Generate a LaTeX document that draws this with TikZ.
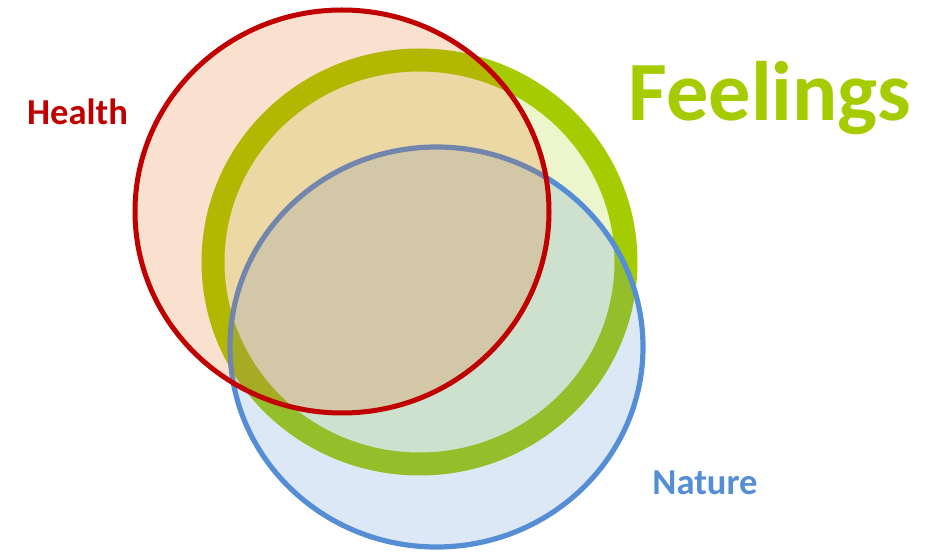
\documentclass[tikz,border=0pt]{standalone}
\usepackage{fontspec}
\setmainfont{Carlito}
\definecolor{healthred}{RGB}{192,0,0}
\definecolor{healthfill}{RGB}{230,100,10}
\definecolor{feelgreen}{RGB}{165,204,0}
\definecolor{natureblue}{RGB}{85,142,213}
\tikzset{
	setlabel/.style={font=\bfseries\fontsize{26}{30}\selectfont, inner sep=0pt, anchor=base},
	setfill/.style={fill opacity=0.2}
}
\begin{document}
\begin{tikzpicture}[x=0.025cm, y=-0.025cm]
	\useasboundingbox (0,0) rectangle (943,556);
	\begin{scope}
		\fill [feelgreen, setfill] (419.5,262) ellipse [x radius=206.5, y radius=202];
		\draw [feelgreen, line width=0.575cm] (419.5,262) ellipse [x radius=206.5, y radius=202];
		\fill [natureblue, setfill] (436.5,347) ellipse [x radius=206.5, y radius=200];
		\draw [natureblue, line width=0.13cm] (436.5,347) ellipse [x radius=206.5, y radius=200];
		\fill [healthfill, setfill] (342,211.5) ellipse [x radius=207, y radius=201.5];
		\draw [healthred, line width=0.125cm] (342,211.5) ellipse [x radius=207, y radius=201.5];
	\end{scope}
	\begin{scope}[every node/.style={setlabel}]
		\node [healthred] (health) at (77.5,125) {Health};
		\node [natureblue] (nature) at (705,495) {Nature};
		\node [feelgreen, font=\bfseries\fontsize{60}{64}\selectfont] (feelings) at (770,121) {Feelings};
	\end{scope}
\end{tikzpicture}
\end{document}
